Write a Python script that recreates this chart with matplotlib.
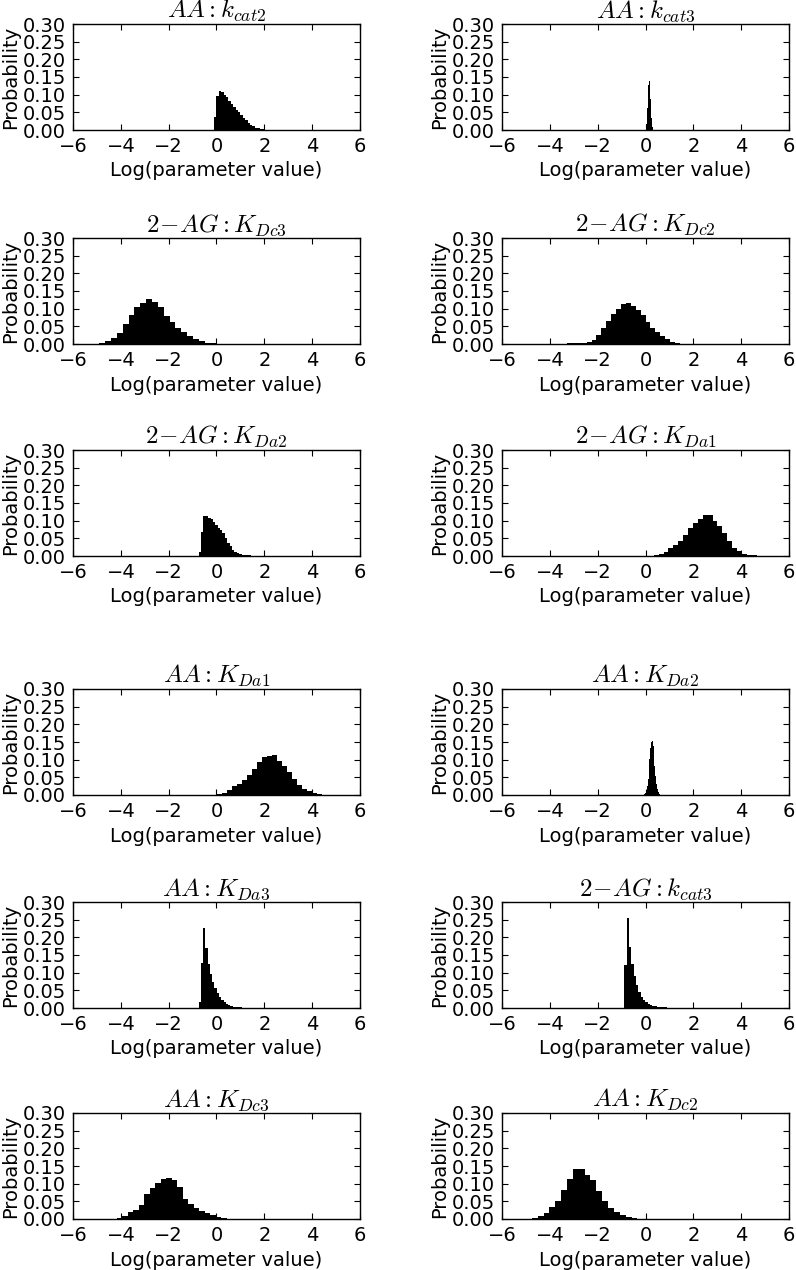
import numpy as np
import matplotlib
matplotlib.use('Agg')
from matplotlib import pyplot as plt
from matplotlib.ticker import FormatStrFormatter, MultipleLocator

### histogram data (probability per bin)

titles = [r'$AA:k_{cat2}$', r'$AA:k_{cat3}$',
          r'$2\!-\!AG:K_{Dc3}$', r'$2\!-\!AG:K_{Dc2}$',
          r'$2\!-\!AG:K_{Da2}$', r'$2\!-\!AG:K_{Da1}$',
          r'$AA:K_{Da1}$', r'$AA:K_{Da2}$',
          r'$AA:K_{Da3}$', r'$2\!-\!AG:k_{cat3}$',
          r'$AA:K_{Dc3}$', r'$AA:K_{Dc2}$']

# first bin edge and bin width of each panel
bin_start = [-0.10, 0.00, -5.39, -4.10, -0.75, 0.14, -0.19, -0.08, -0.75, -0.885, -4.40, -4.995]
bin_width = [0.10, 0.02, 0.245, 0.205, 0.10, 0.205, 0.21, 0.035, 0.095, 0.098, 0.23, 0.245]

h_aa_kcat2 = [0.037, 0.095, 0.110, 0.107, 0.100, 0.092, 0.083, 0.074, 0.066, 0.058,
              0.050, 0.042, 0.034, 0.027, 0.021, 0.015, 0.010, 0.007, 0.005, 0.003,
              0.002, 0.001, 0.0005]
h_aa_kcat3 = [0.003, 0.007, 0.018, 0.035, 0.062, 0.095, 0.128, 0.145, 0.140, 0.118,
              0.088, 0.058, 0.033, 0.017, 0.008, 0.003, 0.001]
h_ag_kdc3 = [0.001, 0.001, 0.002, 0.008, 0.018, 0.032, 0.058, 0.083, 0.106, 0.115,
             0.128, 0.120, 0.104, 0.080, 0.061, 0.045, 0.033, 0.022, 0.013, 0.008,
             0.004, 0.002, 0.001]
h_ag_kdc2 = [0.0003, 0.0005, 0.0008, 0.001, 0.0015, 0.002, 0.003, 0.004,
             0.005, 0.012, 0.026, 0.045, 0.064, 0.085, 0.100, 0.114, 0.115, 0.108,
             0.095, 0.082, 0.063, 0.045, 0.034, 0.024, 0.013, 0.005, 0.003, 0.001]
h_ag_kda2 = [0.012, 0.069, 0.113, 0.112, 0.108, 0.104, 0.097, 0.088, 0.080, 0.073,
             0.064, 0.050, 0.038, 0.027, 0.018, 0.012, 0.008, 0.005, 0.004, 0.003,
             0.002, 0.0015, 0.001, 0.001, 0.0005, 0.0005]
h_ag_kda1 = [0.001, 0.002, 0.005, 0.010, 0.022, 0.030, 0.042, 0.060, 0.080, 0.094,
             0.106, 0.115, 0.115, 0.100, 0.084, 0.065, 0.043, 0.023, 0.013, 0.007,
             0.004, 0.002, 0.001, 0.0005]
h_aa_kda1 = [0.001, 0.002, 0.006, 0.013, 0.025, 0.032, 0.042, 0.056, 0.073, 0.094,
             0.108, 0.111, 0.113, 0.097, 0.082, 0.065, 0.046, 0.029, 0.018, 0.011,
             0.006, 0.003, 0.001, 0.0005]
h_aa_kda2 = [0.001, 0.002, 0.005, 0.012, 0.025, 0.045, 0.072, 0.103, 0.132, 0.150,
             0.152, 0.138, 0.112, 0.082, 0.054, 0.032, 0.017, 0.008, 0.004, 0.002,
             0.001]
h_aa_kda3 = [0.018, 0.128, 0.227, 0.170, 0.125, 0.095, 0.073, 0.056, 0.042, 0.031,
             0.023, 0.017, 0.012, 0.009, 0.006, 0.004, 0.003, 0.002, 0.0015, 0.001,
             0.001, 0.0005]
h_ag_kcat3 = [0.122, 0.255, 0.174, 0.125, 0.090, 0.064, 0.045, 0.031, 0.022, 0.016,
              0.012, 0.009, 0.007, 0.005, 0.004, 0.003, 0.002, 0.0015, 0.001, 0.001,
              0.0005]
h_aa_kdc3 = [0.001, 0.003, 0.009, 0.019, 0.026, 0.040, 0.072, 0.089, 0.103, 0.114,
             0.115, 0.110, 0.091, 0.056, 0.042, 0.030, 0.022, 0.017, 0.011, 0.005,
             0.002, 0.001]
h_aa_kdc2 = [0.001, 0.003, 0.008, 0.017, 0.035, 0.052, 0.082, 0.114, 0.142, 0.142,
             0.125, 0.110, 0.080, 0.052, 0.031, 0.019, 0.011, 0.006, 0.003, 0.001]

heights = [h_aa_kcat2, h_aa_kcat3, h_ag_kdc3, h_ag_kdc2, h_ag_kda2, h_ag_kda1,
           h_aa_kda1, h_aa_kda2, h_aa_kda3, h_ag_kcat3, h_aa_kdc3, h_aa_kdc2]

### style, close to the old matplotlib look
plt.rcParams['font.family'] = ['DejaVu Sans']
plt.rcParams['mathtext.fontset'] = 'cm'
plt.rcParams['font.size'] = 14
plt.rcParams['xtick.direction'] = 'in'
plt.rcParams['ytick.direction'] = 'in'
plt.rcParams['xtick.top'] = True
plt.rcParams['ytick.right'] = True
plt.rcParams['xtick.major.size'] = 4
plt.rcParams['ytick.major.size'] = 4
plt.rcParams['axes.linewidth'] = 1.0

W, H = 796, 1270
fig = plt.figure(figsize=(W / 100, H / 100), dpi=100)

row_top = [24, 238, 450, 689, 902, 1113]
col_left = [73, 502]
ax_w, ax_h = 287, 106

for i in range(12):
    r, c = i // 2, i % 2
    ax = fig.add_axes([col_left[c] / W, 1 - (row_top[r] + ax_h) / H, ax_w / W, ax_h / H])
    h = np.array(heights[i])
    edges = bin_start[i] + bin_width[i] * np.arange(len(h) + 1)
    ax.hist(edges[:-1], bins=edges, weights=h, color='k')
    ax.set_xlim(-6, 6)
    ax.set_ylim(0, 0.30)
    ax.xaxis.set_major_locator(MultipleLocator(2))
    ax.yaxis.set_major_locator(MultipleLocator(0.05))
    ax.yaxis.set_major_formatter(FormatStrFormatter('%.2f'))
    ax.tick_params(labelsize=14, pad=5)
    ax.set_xlabel('Log(parameter value)', fontsize=14, labelpad=4)
    ax.set_ylabel('Probability', fontsize=14, labelpad=2)
    ax.set_title(titles[i], fontsize=18, pad=3)

fig.savefig('out.png', dpi=100)
